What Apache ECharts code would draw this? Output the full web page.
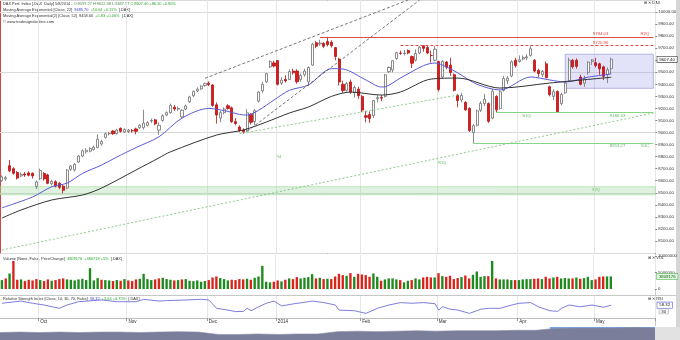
<!DOCTYPE html>
<html>
<head>
<meta charset="utf-8">
<script src="https://cdn.jsdelivr.net/npm/echarts@6.0.0/dist/echarts.min.js"></script>
<style>
html,body{margin:0;padding:0;background:#ffffff;}
#chart{width:680px;height:340px;}
</style>
</head>
<body>
<div id="chart"></div>
<script>
// ---------------- DATA ----------------
const dates = [
'09-17','09-18','09-19','09-20','09-23','09-24','09-25','09-26','09-27','09-30',
'10-01','10-02','10-03','10-04','10-07','10-08','10-09','10-10','10-11','10-14','10-15','10-16','10-17','10-18','10-21','10-22','10-23','10-24','10-25','10-28','10-29','10-30','10-31',
'11-01','11-04','11-05','11-06','11-07','11-08','11-11','11-12','11-13','11-14','11-15','11-18','11-19','11-20','11-21','11-22','11-25','11-26','11-27','11-28','11-29',
'12-02','12-03','12-04','12-05','12-06','12-09','12-10','12-11','12-12','12-13','12-16','12-17','12-18','12-19','12-20','12-23','12-27','12-30',
'01-02','01-03','01-06','01-07','01-08','01-09','01-10','01-13','01-14','01-15','01-16','01-17','01-20','01-21','01-22','01-23','01-24','01-27','01-28','01-29','01-30','01-31',
'02-03','02-04','02-05','02-06','02-07','02-10','02-11','02-12','02-13','02-14','02-17','02-18','02-19','02-20','02-21','02-24','02-25','02-26','02-27','02-28',
'03-03','03-04','03-05','03-06','03-07','03-10','03-11','03-12','03-13','03-14','03-17','03-18','03-19','03-20','03-21','03-24','03-25','03-26','03-27','03-28','03-31',
'04-01','04-02','04-03','04-04','04-07','04-08','04-09','04-10','04-11','04-14','04-15','04-16','04-17','04-22','04-23','04-24','04-25','04-28','04-29','04-30',
'05-02','05-05','05-06','05-07','05-08'
];
// empty future slots on the right of the last bar
const futureSlots = ['05-09','05-12','05-13','05-14','05-15','05-16','05-19','05-20','05-21','05-22','05-23'];

const opens = [8600,8615,8725,8700,8668,8640,8655,8665,8662,8552,
8618,8660,8648,8575,8592,8578,8555,8540,8695,8690,8755,8805,8840,8845,8860,8875,8905,8960,8990,9012,8992,9035,9005,
9008,9015,9030,9040,9040,9060,9095,9105,9020,9100,9145,9165,9210,9195,9130,9195,9255,9305,9345,9362,9390,
9410,9395,9230,9120,9165,9222,9205,9090,9045,9020,9020,9150,9090,9260,9345,9420,9545,9578,
9598,9410,9440,9440,9510,9510,9440,9480,9420,9560,9745,9735,9740,9755,9750,9705,9610,9400,9350,9420,9330,9360,
9300,9140,9150,9140,9280,9290,9300,9505,9520,9615,9660,9655,9680,9630,9600,9660,9720,9705,9640,9600,
9590,9460,9585,9560,9480,9310,9270,9250,9200,9000,9060,9185,9240,9240,9120,9300,9200,9350,9430,9470,9600,
9590,9610,9620,9640,9600,9515,9480,9570,9380,9300,9340,9240,9330,9430,9600,9600,9460,9410,9500,9590,
9580,9570,9545,9480,9530];
const highs = [8645,8640,8772,8712,8680,8668,8672,8678,8668,8600,
8700,8672,8658,8608,8604,8590,8565,8695,8730,8745,8812,8860,8870,8878,8890,8985,8940,9000,9005,9020,9030,9042,9035,
9030,9030,9040,9070,9190,9095,9115,9112,9085,9150,9175,9240,9228,9215,9195,9232,9305,9350,9375,9392,9415,
9425,9400,9250,9180,9210,9235,9215,9120,9060,9035,9195,9160,9195,9345,9420,9495,9600,9595,
9600,9460,9475,9525,9530,9525,9490,9530,9548,9745,9760,9770,9750,9794,9765,9710,9620,9430,9420,9440,9390,9380,
9310,9180,9175,9270,9310,9310,9485,9550,9600,9670,9680,9685,9690,9640,9690,9715,9721,9720,9680,9720,
9595,9600,9595,9620,9490,9320,9330,9260,9210,9070,9190,9260,9320,9250,9360,9310,9350,9470,9470,9600,9620,
9640,9640,9650,9721,9610,9530,9520,9590,9390,9360,9350,9330,9420,9620,9610,9615,9480,9470,9590,9610,
9620,9580,9555,9540,9622];
const lows = [8590,8600,8670,8650,8610,8630,8632,8636,8618,8530,
8605,8600,8570,8560,8545,8530,8495,8530,8680,8675,8748,8795,8825,8835,8850,8870,8890,8950,8975,8980,8985,9000,8995,
8995,9000,8985,9030,9025,9050,9080,9060,8980,9090,9135,9155,9180,9180,9115,9185,9245,9295,9335,9355,9380,
9385,9215,9075,9085,9150,9190,9080,9060,9005,8990,9005,9065,9060,9250,9330,9410,9535,9540,
9390,9395,9415,9435,9480,9405,9420,9465,9385,9555,9700,9720,9700,9715,9705,9600,9390,9330,9340,9320,9290,9280,
9170,9085,9080,9120,9250,9260,9290,9495,9500,9605,9645,9640,9650,9535,9590,9650,9670,9650,9580,9590,
9340,9450,9525,9470,9340,9210,9250,9180,9005,8913,9050,9170,9220,9080,9110,9166,9190,9340,9400,9460,9540,
9580,9600,9600,9630,9500,9460,9460,9450,9300,9270,9168,9225,9320,9420,9530,9530,9390,9380,9480,9560,
9540,9480,9435,9410,9487];
const closes = [8632,8625,8682,8662,8622,8652,8648,8645,8640,8590,
8685,8615,8578,8595,8555,8545,8520,8688,8722,8735,8805,8848,8852,8868,8878,8945,8925,8990,8993,8990,9020,9010,9025,
9020,9013,9010,9060,9078,9082,9100,9072,9060,9140,9165,9225,9195,9200,9185,9220,9295,9340,9360,9385,9405,
9398,9225,9145,9165,9195,9200,9090,9075,9015,9006,9164,9085,9181,9336,9400,9488,9589,9552,
9400,9435,9428,9506,9497,9421,9473,9510,9540,9733,9717,9742,9716,9730,9720,9631,9420,9349,9406,9336,9374,9306,
9186,9127,9116,9265,9290,9285,9478,9540,9596,9662,9657,9659,9660,9575,9656,9708,9699,9661,9639,9692,
9358,9589,9542,9498,9350,9265,9307,9188,9017,9056,9180,9242,9277,9093,9343,9188,9338,9448,9451,9587,9556,
9603,9623,9628,9695,9510,9490,9506,9455,9315,9339,9173,9317,9409,9601,9545,9549,9401,9446,9584,9603,
9556,9529,9467,9521,9607.40];

// volume in millions of shares
const volumes = [2.7,3.2,4.7,8.5,2.8,2.9,2.4,2.8,2.6,3.0,
2.7,2.4,2.9,2.5,2.7,3.0,3.2,2.9,2.8,2.6,2.9,3.1,2.7,6.3,2.6,3.3,2.8,2.7,2.6,2.4,2.7,2.5,3.0,
2.6,2.4,2.9,3.1,4.6,3.0,2.7,2.9,3.2,3.4,3.0,2.8,2.6,2.7,2.9,3.0,2.5,2.4,2.6,2.2,2.4,
2.7,3.5,3.8,3.3,3.0,2.6,2.8,2.7,3.0,2.9,3.1,2.8,3.4,3.8,7.0,2.2,2.0,2.2,
2.6,2.3,2.8,3.2,3.0,3.6,3.2,3.4,3.6,4.5,3.2,3.4,3.0,3.1,3.0,3.8,4.6,4.2,4.0,4.8,3.7,4.6,
4.4,4.2,3.7,4.7,3.7,2.5,2.9,3.2,3.2,2.9,2.7,2.0,2.5,2.7,3.2,2.9,3.5,3.7,3.5,3.5,
4.8,3.9,3.7,4.0,3.0,3.3,3.6,4.1,3.2,4.3,5.3,3.7,3.9,3.9,8.5,3.2,2.9,2.9,2.9,2.7,2.7,
2.7,2.9,3.0,3.0,3.1,3.2,3.0,3.7,3.2,3.5,3.7,3.2,3.3,3.2,3.2,3.5,3.1,3.3,3.7,2.7,
2.9,3.7,3.8,3.8,3.809176];

// exponential moving averages [date, value]
const ema22 = [['09-17',8375],['09-27',8465],['10-04',8550],['10-10',8580],['10-16',8660],['10-23',8730],['10-29',8797],
['11-05',8875],['11-13',8965],['11-21',9120],['12-02',9200],['12-09',9175],['12-12',9150],['12-16',9145],['12-19',9185],
['12-30',9270],['01-07',9350],['01-14',9395],['01-22',9530],['01-27',9527],['02-04',9436],['02-10',9378],['02-11',9380],
['02-17',9452],['02-25',9555],['02-28',9577],['03-05',9545],['03-10',9494],['03-17',9400],['03-25',9353],['04-04',9461],
['04-11',9436],['04-17',9419],['04-29',9460],['05-08',9485.70]];
const ema52 = [['09-17',8290],['09-24',8357],['10-04',8440],['10-16',8481],['10-23',8539],['11-05',8689],['11-13',8790],
['11-18',8840],['12-04',8979],['12-13',9021],['12-23',9087],['01-07',9162],['01-14',9212],['01-22',9300],['01-29',9336],
['02-10',9311],['02-17',9336],['02-27',9444],['03-10',9452],['03-25',9369],['04-11',9411],['05-08',9458.60]];

// RSI(10)
const rsi = [['09-17',67],['09-24',77],['09-27',67],['10-02',59],['10-08',44],['10-10',59],['10-15',74],['10-23',82],
['10-29',74],['11-05',74],['11-07',85],['11-13',77],['11-15',79],['11-22',82],['11-28',85],['12-02',82],['12-04',44],
['12-09',36],['12-11',29],['12-13',30],['12-16',44],['12-17',33],['12-19',51],['12-23',67],['12-30',77],['01-03',55],
['01-08',64],['01-14',74],['01-15',77],['01-20',70],['01-23',59],['01-24',36],['01-30',33],['02-04',21],['02-07',44],
['02-12',59],['02-17',70],['02-20',67],['02-25',70],['02-28',65],['03-03',36],['03-04',51],['03-06',40],['03-10',36],
['03-13',21],['03-18',40],['03-20',44],['03-25',44],['03-28',59],['04-01',67],['04-04',70],['04-08',51],['04-11',33],
['04-15',30],['04-16',44],['04-22',59],['04-25',51],['04-30',59],['05-06',49],['05-08',58.32]];
const rsiLevels = [30, 70];

// support / resistance levels
const levelValues = [9794.03, 9720.96, 9166.33, 8913.27];
const levelStarts = ['01-17', '02-17', '03-24', '03-14'];
const levelNames  = ['R2Q', '', 'S1Q', 'S1C'];
const supportBand = [8483, 8550];
const boxRange = {from: '04-17', to: '05-23', top: 9650, bottom: 9367};
// trend lines [startDate, startValue, endDate, endValue]
const trendDashed = [['11-29', 9450, '02-19', 10100], ['12-16', 9010, '02-24', 10100]];
const trendDotted = [['09-17', 8025, '05-23', 9162], ['12-12', 8990, '03-10', 9311]];

// navigator overview heights
const navHeights = [8,8.5,8,8.5,8,8.5,8.5,8,8.5,9,8.5,6,6,6.5,6,6.5,6.5,9,9.5,9,9.5,10,9.5,10,10,10,10.5,10.5,12.5,13,13,13,13.5,13];

const yTicksMain = {min: 8000, max: 10100, step: 100};
const monthOrder = ['10','11','12','01','02','03','04','05'];
const monthTickLabels = ['Oct','Nov','Dec','2014','Feb','Mar','Apr','May'];

// ---------------- CHART ----------------
const cats = dates.concat(futureSlots);
const N = dates.length;
const LAST = cats[cats.length - 1];
const isMonthStart = (i) => i > 0 && i < N && cats[i].slice(0,2) !== cats[i-1].slice(0,2);

const FONT = 'Liberation Sans';
const FS = 4.3;
const RED = '#d9231d', GREEN = '#1f8a1f';
const HIDDEN = {width: 0, color: 'rgba(0,0,0,0)'};

const candleData = opens.map((o, i) => [o, closes[i], lows[i], highs[i]]);
const volData = volumes.map((v, i) => {
  const prev = i === 0 ? opens[0] : closes[i-1];
  return {value: v, itemStyle: {color: closes[i] >= prev ? GREEN : RED}};
});

const gridL = -1.3, gridW = 656.6;
const grids = [
  {left: gridL, width: gridW, top: 0, height: 253},
  {left: gridL, width: gridW, top: 255, height: 34},
  {left: gridL, width: gridW, top: 296, height: 22},
  {left: 0, width: 655, top: 327, height: 13}
];

function catAxis(gi, labels) {
  return {
    type: 'category', gridIndex: gi, data: cats, boundaryGap: true,
    axisLine: {show: labels, lineStyle: {color: '#bdbdbd'}},
    axisTick: {show: labels, interval: (i) => isMonthStart(i), length: 3, lineStyle: {color: '#999'}},
    axisLabel: {
      show: labels, interval: (i) => isMonthStart(i), fontSize: 4.6, fontFamily: FONT, color: '#333',
      margin: 1, align: 'left',
      formatter: (v) => monthTickLabels[monthOrder.indexOf(v.slice(0,2))]
    },
    splitLine: {show: true, interval: (i) => isMonthStart(i), lineStyle: {color: '#e6e6e6', width: 1}}
  };
}

function seg(a, b, style) {
  return [{coord: [a[0], a[1]], lineStyle: style, label: {show: false}}, {coord: [b[0], b[1]]}];
}

const levelLines = [];
levelValues.forEach((v, k) => {
  const isRed = v > 9700;
  const col = isRed ? '#e2494b' : '#86d486';
  const textCol = isRed ? '#e2494b' : '#5cb85c';
  const pos = isRed ? 'Top' : 'Bottom';
  const txt = {fontSize: FS, fontFamily: FONT, color: textCol};
  levelLines.push([
    {coord: [levelStarts[k], v], lineStyle: {color: col, width: 1, type: k === 1 ? [3, 2] : 'solid'},
     label: Object.assign({show: true, position: 'insideEnd' + pos, distance: [isRed ? 45 : 28, 1], formatter: v.toFixed(2)}, txt)},
    {coord: [LAST, v]}
  ]);
  if (levelNames[k]) {
    const atStart = k === 2;
    levelLines.push([
      {coord: [levelStarts[k], v], lineStyle: HIDDEN,
       label: Object.assign({show: true, position: (atStart ? 'insideStart' : 'insideEnd') + pos,
         distance: atStart ? [26, 1] : [4, 1], formatter: levelNames[k]}, txt)},
      {coord: [LAST, v]}
    ]);
  }
});

const trendLines = [];
trendDashed.forEach(t => trendLines.push(seg([t[0], t[1]], [t[2], t[3]], {color: '#555', width: 0.8, type: [3, 2]})));
trendDotted.forEach(t => trendLines.push(seg([t[0], t[1]], [t[2], t[3]], {color: '#7cc47c', width: 0.9, type: [2, 2]})));

const option = {
  animation: false,
  backgroundColor: '#ffffff',
  grid: grids,
  xAxis: [
    catAxis(0, false), catAxis(1, false), catAxis(2, true),
    {type: 'value', gridIndex: 3, min: 0, max: navHeights.length - 1, show: false}
  ],
  yAxis: [
    {type: 'value', gridIndex: 0, position: 'right', min: yTicksMain.min, max: yTicksMain.max, interval: yTicksMain.step,
     axisLine: {show: false}, axisTick: {show: true, length: 2, lineStyle: {color: '#888'}},
     axisLabel: {fontSize: FS, fontFamily: FONT, color: '#333', margin: 3, showMinLabel: false, showMaxLabel: false,
       formatter: (v) => v.toFixed(2)},
     splitLine: {show: false}},
    {type: 'value', gridIndex: 0, position: 'right', min: yTicksMain.min, max: yTicksMain.max, interval: 500,
     axisLine: {show: false}, axisTick: {show: false}, axisLabel: {show: false},
     splitLine: {show: true, lineStyle: {color: '#d9d9d9', width: 1}}},
    {type: 'value', gridIndex: 1, position: 'right', min: 0, max: 10.3, interval: 5,
     axisLine: {show: false}, axisTick: {show: true, length: 2, lineStyle: {color: '#888'}},
     axisLabel: {fontSize: FS, fontFamily: FONT, color: '#333', margin: 3, showMaxLabel: false,
       formatter: (v) => String(Math.round(v * 1e6))},
     splitLine: {show: false}},
    {type: 'value', gridIndex: 2, position: 'right', min: 0, max: 100, interval: 10,
     axisLine: {show: false}, axisTick: {show: false},
     axisLabel: {show: false}, splitLine: {show: false}},
    {type: 'value', gridIndex: 3, min: 0, max: 14, show: false}
  ],
  series: [
    {
      type: 'candlestick', xAxisIndex: 0, yAxisIndex: 0, data: candleData, barWidth: '68%',
      itemStyle: {color: '#ffffff', color0: '#e01b1b', borderColor: '#6f6f6f', borderColor0: '#b31212', borderWidth: 0.8},
      markLine: {
        silent: true, symbol: ['none', 'none'], animation: false,
        data: levelLines.concat(trendLines).concat([
          {yAxis: closes[N - 1], lineStyle: HIDDEN,
           label: {show: true, position: 'end', distance: 2, formatter: closes[N - 1].toFixed(2),
             fontSize: FS, fontFamily: FONT, color: '#111', backgroundColor: '#ffffff', borderColor: '#333',
             borderWidth: 0.6, padding: [1, 2, 0.5, 2]}}
        ])
      },
      markArea: {
        silent: true,
        data: [
          [{yAxis: supportBand[1], itemStyle: {color: 'rgba(140,210,140,0.28)', borderColor: '#9ad89a', borderWidth: 0.6}}, {yAxis: supportBand[0]}],
          [{coord: [boxRange.from, boxRange.top], itemStyle: {color: 'rgba(150,150,235,0.28)', borderColor: '#9a9ae0', borderWidth: 0.7}},
           {coord: [boxRange.to, boxRange.bottom]}]
        ]
      },
      z: 3
    },
    {type: 'line', xAxisIndex: 0, yAxisIndex: 0, data: ema22, showSymbol: false, smooth: 0.3,
     lineStyle: {color: '#5a5ad8', width: 1}, z: 4},
    {type: 'line', xAxisIndex: 0, yAxisIndex: 0, data: ema52, showSymbol: false, smooth: 0.3,
     lineStyle: {color: '#333333', width: 1}, z: 4},
    {type: 'bar', xAxisIndex: 1, yAxisIndex: 2, data: volData, barWidth: '62%',
     markLine: {silent: true, symbol: ['none', 'none'],
       data: [{yAxis: volumes[N - 1], lineStyle: HIDDEN,
         label: {show: true, position: 'end', distance: 2, formatter: String(Math.round(volumes[N - 1] * 1e6)),
           fontSize: FS, fontFamily: FONT, color: '#1f6b1f', backgroundColor: '#dff3df', borderColor: '#5cb85c',
           borderWidth: 0.6, padding: [1, 2, 0.5, 2]}}]}},
    {type: 'line', xAxisIndex: 2, yAxisIndex: 3, data: rsi, showSymbol: false,
     lineStyle: {color: '#6f6fd8', width: 0.9},
     markLine: {silent: true, symbol: ['none', 'none'],
       data: [
         {yAxis: rsi[rsi.length - 1][1], lineStyle: HIDDEN,
          label: {show: true, position: 'end', distance: 2, formatter: rsi[rsi.length - 1][1].toFixed(2),
            fontSize: FS, fontFamily: FONT, color: '#222', backgroundColor: '#ffffff', borderColor: '#5a5ad8',
            borderWidth: 0.6, padding: [1, 2, 0.5, 2]}},
         {yAxis: rsiLevels[0], lineStyle: HIDDEN,
          label: {show: true, position: 'end', distance: 4, formatter: String(rsiLevels[0]),
            fontSize: FS, fontFamily: FONT, color: '#333', backgroundColor: '#f4f4f4', borderColor: '#999',
            borderWidth: 0.5, padding: [0.5, 2, 0, 2]}}
       ]}},
    {type: 'line', xAxisIndex: 3, yAxisIndex: 4, data: navHeights.map((h, i) => [i, h]), showSymbol: false,
     lineStyle: {color: '#8a8da6', width: 0.6}, areaStyle: {color: '#7b7e9a', opacity: 1},
     markArea: {silent: true, data: [[{xAxis: 27.7, itemStyle: {color: 'rgba(70,140,230,0.75)'}}, {xAxis: navHeights.length - 1}]]}}
  ],
  graphic: [
    {type: 'rect', silent: true, shape: {x: 655, y: 327, width: 25, height: 13}, style: {fill: '#e2e2e2'}},
    {type: 'rect', silent: true, shape: {x: 676, y: 0, width: 4, height: 327}, style: {fill: '#d6d6d6'}},
    {type: 'rect', silent: true, shape: {x: 0.5, y: 0.5, width: 655, height: 253}, style: {fill: 'none', stroke: '#d84343', lineWidth: 1}},
    {type: 'line', silent: true, shape: {x1: 0, y1: 295.5, x2: 676, y2: 295.5}, style: {stroke: '#c8c8c8', lineWidth: 1}},
    {type: 'line', silent: true, shape: {x1: 655.5, y1: 254, x2: 655.5, y2: 326}, style: {stroke: '#c8c8c8', lineWidth: 1}},
    {type: 'text', left: 3, top: 2, silent: true, style: {
      text: '{k|DAX Perf. Index [.DAX  Daily] 5/8/2014 - }{o|O:9597.27 H:9622.38 L:9487.57 }{g|C:9607.40 +86.10 +0.90%}',
      rich: {k: {fontSize: 3.9, fontFamily: FONT, fill: '#333'}, o: {fontSize: 3.9, fontFamily: FONT, fill: '#4a8a4a'}, g: {fontSize: 3.9, fontFamily: FONT, fill: '#2aa52a'}}}},
    {type: 'text', left: 3, top: 8, silent: true, style: {
      text: '{k|Moving Average Exponential [Close, 22]  }{b|9485.70}{g|  +10.64 +0.11%}{k|  [.DAX]}',
      rich: {k: {fontSize: 3.9, fontFamily: FONT, fill: '#333'}, b: {fontSize: 3.9, fontFamily: FONT, fill: '#3b3bd0'}, g: {fontSize: 3.9, fontFamily: FONT, fill: '#2aa52a'}}}},
    {type: 'text', left: 3, top: 14, silent: true, style: {
      text: '{k|Moving Average Exponential(2) [Close, 52]  9458.60}{g|  +5.83 +0.06%}{k|  [.DAX]}',
      rich: {k: {fontSize: 3.9, fontFamily: FONT, fill: '#333'}, g: {fontSize: 3.9, fontFamily: FONT, fill: '#2aa52a'}}}},
    {type: 'text', left: 3, top: 20, silent: true, style: {text: '© www.tradesignalonline.com', fontSize: 3.9, fontFamily: FONT, fill: '#333'}},
    {type: 'text', left: 3, top: 257, silent: true, style: {
      text: '{k|Volume [None, False, PriceChange]  }{g|3809176  +380718 +5%}{k|  [.DAX]}',
      rich: {k: {fontSize: 3.9, fontFamily: FONT, fill: '#333'}, g: {fontSize: 3.9, fontFamily: FONT, fill: '#2aa52a'}}}},
    {type: 'text', left: 3, top: 297, silent: true, style: {
      text: '{k|Relative Strength Index [Close, 10, 30, 70, False]  }{b|58.32}{g|  +3.64 +6.75%}{k|  [.DAX]}',
      rich: {k: {fontSize: 3.9, fontFamily: FONT, fill: '#333'}, b: {fontSize: 3.9, fontFamily: FONT, fill: '#3b3bd0'}, g: {fontSize: 3.9, fontFamily: FONT, fill: '#2aa52a'}}}},
    {type: 'text', left: 644, top: 1, silent: true, style: {text: '⊞ ✕ DAX', fontSize: 4, fontFamily: FONT, fill: '#333'}},
    {type: 'text', left: 648, top: 256, silent: true, style: {text: '⊞ ✕ VOL', fontSize: 4, fontFamily: FONT, fill: '#333'}},
    {type: 'text', left: 648, top: 297, silent: true, style: {text: '⊞ ✕ RSI', fontSize: 4, fontFamily: FONT, fill: '#333'}},
    {type: 'text', left: 276, top: 155, silent: true, style: {text: 'R4', fontSize: 4, fontFamily: FONT, fill: '#5cb85c'}},
    {type: 'text', left: 438, top: 161, silent: true, style: {text: 'R1Q', fontSize: 4, fontFamily: FONT, fill: '#5cb85c'}},
    {type: 'text', left: 592, top: 188, silent: true, style: {text: 'S2Q', fontSize: 4, fontFamily: FONT, fill: '#5cb85c'}}
  ]
};

const chart = echarts.init(document.getElementById('chart'), null, {renderer: 'canvas'});
chart.setOption(option);
</script>
</body>
</html>
